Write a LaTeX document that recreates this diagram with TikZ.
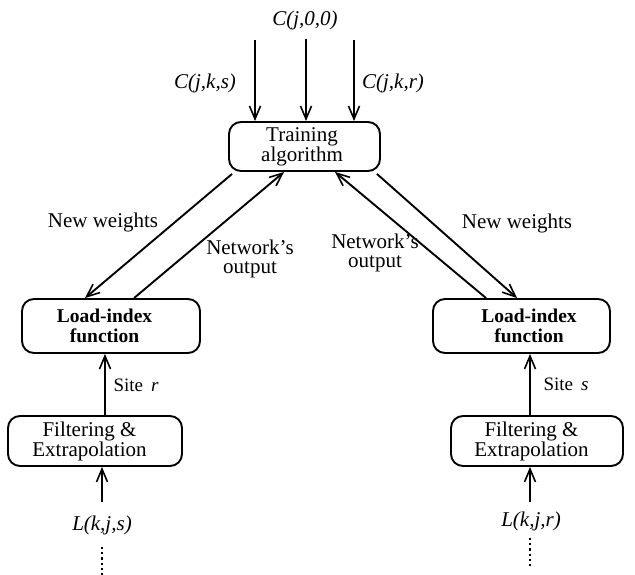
\documentclass[tikz,border=0pt]{standalone}
\usepackage{fontspec}
\setmainfont{Liberation Serif}
\usetikzlibrary{arrows.meta,calc}
% moves one line of centred text sideways by half of #1
\newcommand\nudge[1]{\hspace*{#1}}
\begin{document}
\begin{tikzpicture}[x=1pt,y=-1pt,
  box/.style={draw,line width=1.9pt,rounded corners=12pt,align=center,inner sep=0pt,
    font=\fontsize{21}{20}\selectfont},
  boldbox/.style={box,font=\fontsize{19.5}{20}\selectfont\bfseries},
  lbl/.style={align=center,inner sep=0pt,font=\fontsize{21}{19}\selectfont},
  sitelbl/.style={inner sep=0pt,font=\fontsize{19}{19}\selectfont},
  arr/.style={line width=1.9pt,-{Straight Barb[length=13pt,width=11pt,line width=1.6pt]}},
  dots/.style={line width=2.2pt,dash pattern=on 2.2pt off 3pt}]
\useasboundingbox (0,0) rectangle (635,575);

% boxes
\node[box,minimum width=151pt,minimum height=49pt] (train) at (304.5,146.5)
  {\nudge{-5pt}Training\\\nudge{-5pt}algorithm};
\node[boldbox,minimum width=178pt,minimum height=54pt] (liL) at (111,326)
  {\nudge{-13pt}Load-index\\\nudge{-13pt}function};
\node[boldbox,minimum width=177pt,minimum height=54pt] (liR) at (521.5,326)
  {\nudge{15pt}Load-index\\\nudge{15pt}function};
\node[box,minimum width=174pt,minimum height=50pt] (fL) at (95,441)
  {\nudge{-11pt}Filtering \&\\\nudge{-11pt}Extrapolation};
\node[box,minimum width=172pt,minimum height=50pt] (fR) at (537,441)
  {\nudge{-11pt}Filtering \&\\\nudge{-11pt}Extrapolation};

% inputs of the training algorithm
\node[lbl] (c00) at (305,20) {\textit{C(j,0,0)}};
\node[lbl] (cks) at (205,83) {\textit{C(j,k,s)}};
\node[lbl] (ckr) at (393,83) {\textit{C(j,k,r)}};
\coordinate (tks) at (255,40);
\coordinate (t00) at (306,39);
\coordinate (tkr) at (354,40);
\draw[arr] (tks) -- (tks |- train.north);
\draw[arr] (t00) -- (t00 |- train.north);
\draw[arr] (tkr) -- (tkr |- train.north);

% weights and outputs
\draw[arr] ([xshift=4pt,yshift=-2pt]train.south west) -- ([xshift=64pt]liL.north west);
\draw[arr] ([xshift=113pt]liL.north west) -- ([xshift=56pt]train.south west);
\draw[arr] ([xshift=54pt]liR.north west) -- ([xshift=107pt]train.south west);
\draw[arr] ([xshift=-4pt,yshift=-2pt]train.south east) -- ([xshift=85pt]liR.north west);

\node[lbl] (nwL) at (103,222) {New weights};
\node[lbl] (noL) at (250,259) {Network's\\output};
\node[lbl] (noR) at (375,253) {Network's\\output};
\node[lbl] (nwR) at (517,223) {New weights};

% filtered loads into the load-index functions
\draw[arr] ([xshift=10pt]fL.north) coordinate (sr) -- (sr |- liL.south);
\draw[arr] ([xshift=-7pt]fR.north) coordinate (ss) -- (ss |- liR.south);
\node[sitelbl] (siteR) at (136,385) {Site~\,\textit{r}};
\node[sitelbl] (siteS) at (566,384) {Site~\,\textit{s}};

% raw load inputs
\node[lbl] (lks) at (102,525) {\textit{L(k,j,s)}};
\node[lbl] (lkr) at (531,521) {\textit{L(k,j,r)}};
\coordinate (inL) at (102,502);
\coordinate (inR) at (530,502);
\draw[arr] (inL) -- (inL |- fL.south);
\draw[arr] (inR) -- (inR |- fR.south);
\coordinate (dL0) at (102,547);
\coordinate (dL) at (102,575);
\coordinate (dR0) at (530,538);
\coordinate (dR) at (530,567);
\draw[dots] (dL0) -- (dL);
\draw[dots] (dR0) -- (dR);
\end{tikzpicture}
\end{document}
